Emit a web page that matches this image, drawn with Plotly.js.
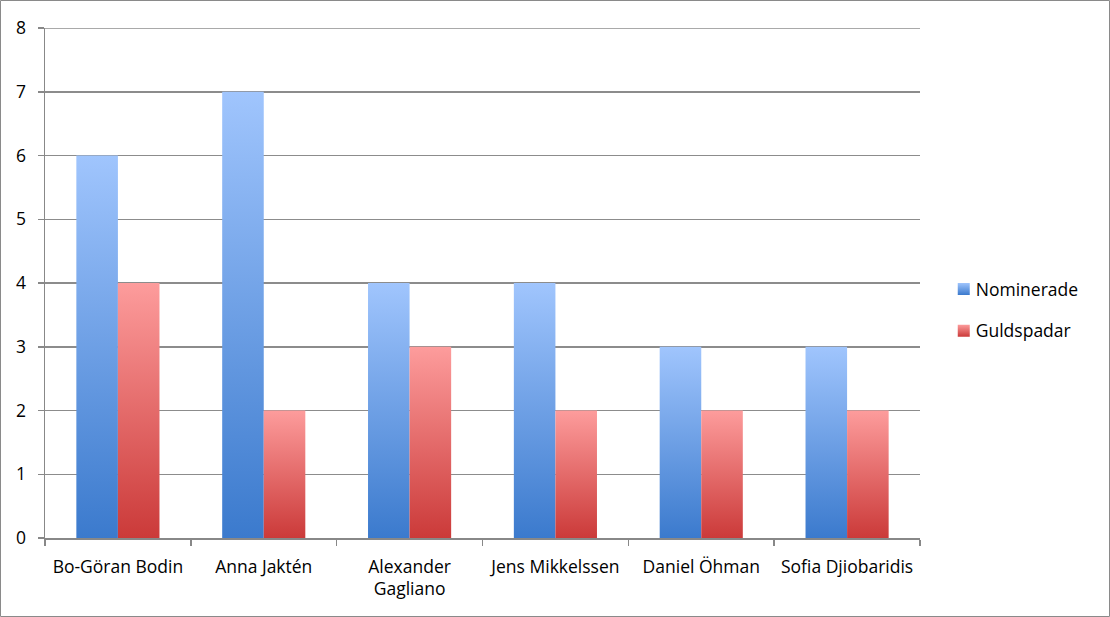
<!DOCTYPE html>
<html><head><meta charset="utf-8">
<script src="https://cdn.plot.ly/plotly-3.0.1.min.js"></script>
<style>html,body{margin:0;padding:0;background:#fff}#chart{width:1110px;height:617px}</style>
</head><body><div id="chart"></div>
<script>
const categories = ["Bo-Göran Bodin", "Anna Jaktén", "Alexander<br>Gagliano", "Jens Mikkelssen", "Daniel Öhman", "Sofia Djiobaridis"];
const nominerade = [6, 7, 4, 4, 3, 3];
const guldspadar = [4, 2, 3, 2, 2, 2];
const seriesNames = ["Nominerade", "Guldspadar"];

const font = {family: "Open Sans, DejaVu Sans, sans-serif", size: 17.5, color: "#000"};
const traces = [
  {type: "bar", name: seriesNames[0], x: categories, y: nominerade, marker: {color: "#6a9be6"}, legendgroup: "a", hoverinfo: "x+y"},
  {type: "bar", name: seriesNames[1], x: categories, y: guldspadar, marker: {color: "#e46a6a"}, legendgroup: "b", hoverinfo: "x+y"}
];
const W = 875, H = 510, L = 45, T = 28;
const layout = {
  width: 1110, height: 617,
  margin: {l: 45, r: 190, t: 28, b: 79, pad: 0},
  paper_bgcolor: "#fff", plot_bgcolor: "#fff",
  font: font,
  barmode: "group", bargap: 0.43, bargroupgap: 0,
  showlegend: true,
  legend: {x: 1.018, xanchor: "left", y: 0.447, yanchor: "middle", font: font, tracegroupgap: 16, traceorder: "grouped", bgcolor: "rgba(0,0,0,0)"},
  xaxis: {type: "category", tickson: "boundaries", ticks: "outside", ticklen: 6, tickcolor: "#888", tickwidth: 1.5,
          showline: true, linecolor: "#888", linewidth: 1.5, showgrid: false, tickfont: font, fixedrange: true, ticklabelstandoff: 12},
  yaxis: {range: [0, 8], dtick: 1, ticks: "outside", ticklen: 6, tickcolor: "#888", tickwidth: 1.5,
          showline: true, linecolor: "#888", linewidth: 1.5, showgrid: true, gridcolor: "#8c8c8c", gridwidth: 1.5,
          zeroline: false, tickfont: font, ticklabelstandoff: 8, fixedrange: true},
  shapes: [
    {type: "rect", xref: "paper", yref: "paper",
     x0: (0.5 - L) / W, x1: (1109.5 - L) / W, y0: (T + H - 616.5) / H, y1: (T + H - 0.5) / H,
     line: {color: "#8a8a8a", width: 1}, fillcolor: "rgba(0,0,0,0)", layer: "below"},
    {type: "line", xref: "paper", yref: "y", x0: 0, x1: 1, y0: 8, y1: 8, line: {color: "#8c8c8c", width: 1.5}, layer: "below"}
  ]
};

function applyGradients(gd) {
  const svg = gd.querySelector("svg.main-svg");
  if (!svg) return;
  const ns = "http://www.w3.org/2000/svg";
  let defs = svg.querySelector("defs");
  if (!defs) { defs = document.createElementNS(ns, "defs"); svg.insertBefore(defs, svg.firstChild); }
  const grads = [["gradBlue", "#a0c5fd", "#3b7acd"], ["gradRed", "#fd9c9c", "#cb3a39"]];
  grads.forEach(([id, top, bot]) => {
    if (svg.querySelector("#" + id)) return;
    const g = document.createElementNS(ns, "linearGradient");
    g.setAttribute("id", id); g.setAttribute("x1", "0"); g.setAttribute("y1", "0"); g.setAttribute("x2", "0"); g.setAttribute("y2", "1");
    [[0, top], [1, bot]].forEach(([o, c]) => {
      const s = document.createElementNS(ns, "stop"); s.setAttribute("offset", o); s.setAttribute("stop-color", c); g.appendChild(s);
    });
    defs.appendChild(g);
  });
  gd.querySelectorAll(".barlayer .trace.bars").forEach((t, i) => {
    t.querySelectorAll("path").forEach(p => { p.style.fill = "url(#" + grads[i][0] + ")"; });
  });
  gd.querySelectorAll(".legend .traces").forEach((t, i) => {
    const lp = t.querySelector(".legendpoints");
    if (lp) lp.setAttribute("transform", "translate(8,0)");
    t.querySelectorAll(".legendpoints path").forEach(p => { p.style.fill = "url(#" + grads[i][0] + ")"; p.style.stroke = "none"; });
  });
}
Plotly.newPlot("chart", traces, layout, {displayModeBar: false, staticPlot: true}).then(gd => {
  applyGradients(gd);
  gd.on("plotly_afterplot", () => applyGradients(gd));
});
</script></body></html>
